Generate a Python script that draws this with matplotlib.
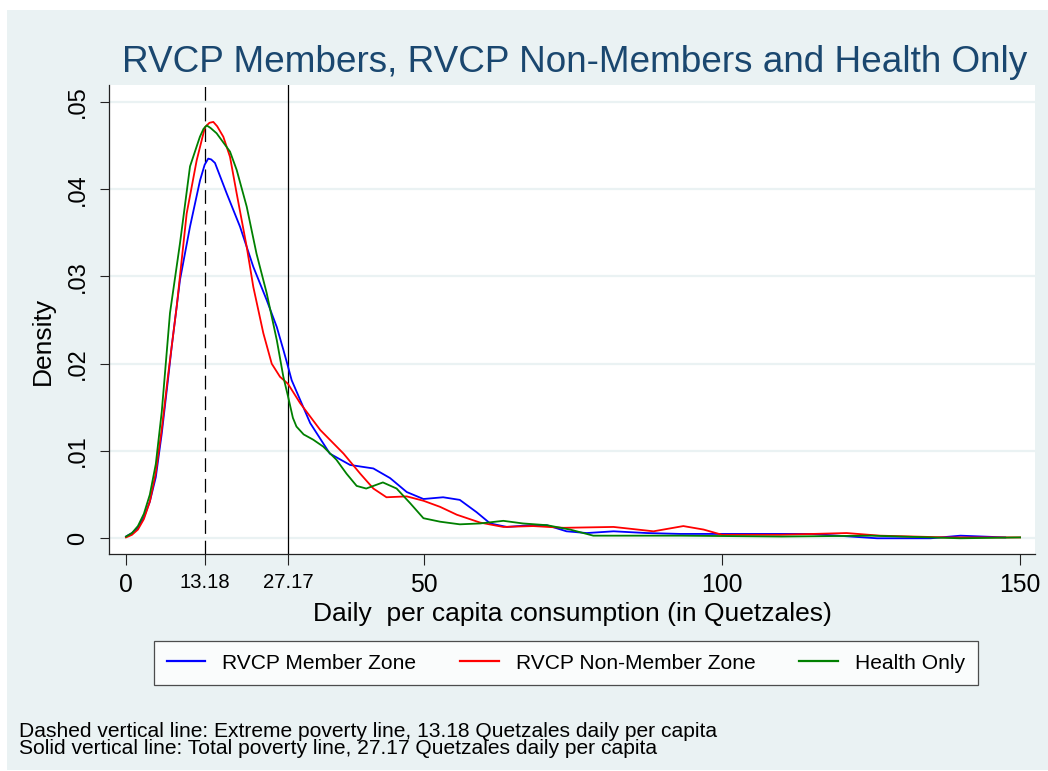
import matplotlib
matplotlib.use("Agg")
import matplotlib.pyplot as plt
from matplotlib.patches import Rectangle

# ---------------- data ----------------
member_x = [0, 1, 2, 3, 4, 5, 6, 7.1, 7.66, 9.06, 10.74, 12.42, 13.2, 13.8, 14.3, 14.93,
            16.9, 19.13, 21.36, 23.6, 25.3, 26.4, 27.17, 27.8, 30.9, 34.2, 37.6, 41.5,
            44.3, 47.1, 49.9, 53.2, 56.0, 58.8, 61.1, 63.9, 67.8, 70.6, 73.9, 77.3,
            81.8, 87.4, 93, 100, 115, 126, 135, 140, 147.5]
member_y = [0.0002, 0.0006, 0.0012, 0.0024, 0.0042, 0.0070, 0.0120, 0.0185, 0.0219,
            0.0296, 0.0357, 0.0410, 0.0428, 0.0435, 0.0434, 0.0430, 0.0395, 0.0357,
            0.0311, 0.0273, 0.0242, 0.0216, 0.0197, 0.0181, 0.0132, 0.0097, 0.0084,
            0.0080, 0.0069, 0.0053, 0.0045, 0.0047, 0.0044, 0.0030, 0.0017, 0.0013,
            0.0015, 0.0015, 0.0008, 0.0006, 0.0008, 0.0006, 0.0005, 0.0005, 0.0005,
            0.0000, 0.0000, 0.0003, 0.0001]

nonmember_x = [0, 1, 2, 3, 4, 5, 6, 7.1, 8.5, 10.18, 11.86, 13.25, 14.0, 14.65, 15.3,
               16.33, 17.45, 18.57, 20.25, 21.36, 23.04, 24.45, 25.84, 27.17, 29.2, 32.6,
               36.5, 39.3, 41.5, 43.7, 47.1, 49.9, 52.7, 55.5, 59.4, 63.3, 68.3, 73.4,
               81.8, 88.5, 93.5, 96.9, 100, 109.7, 120.9, 126.5, 137.7, 150]
nonmember_y = [0.0001, 0.0004, 0.0010, 0.0022, 0.0042, 0.0075, 0.0125, 0.0189, 0.0265,
               0.0372, 0.0433, 0.0471, 0.0476, 0.0477, 0.0472, 0.0460, 0.0437, 0.0395,
               0.0334, 0.0288, 0.0235, 0.0200, 0.0185, 0.0177, 0.0155, 0.0124, 0.0097,
               0.0074, 0.0057, 0.0047, 0.0048, 0.0043, 0.0036, 0.0027, 0.0018, 0.0013,
               0.0014, 0.0012, 0.0013, 0.0008, 0.0014, 0.0010, 0.0004, 0.0004, 0.0006,
               0.0003, 0.0001, 0.0001]

health_x = [0, 1, 2, 3, 4, 5, 6, 6.54, 7.38, 9.06, 10.74, 12.4, 13.0, 13.54, 14.2, 15.2,
            17.45, 18.57, 20.25, 21.9, 23.6, 25.3, 26.4, 27.17, 28.0, 28.6, 29.8, 31.4,
            33.1, 35.3, 37.0, 38.7, 40.3, 43.1, 45.4, 47.7, 49.9, 52.7, 56.0, 59.4,
            63.3, 66.6, 70.6, 74.5, 78.4, 84.6, 93, 110, 125, 140, 150]
health_y = [0.0002, 0.0006, 0.0014, 0.0028, 0.0050, 0.0085, 0.0145, 0.0189, 0.0258,
            0.0338, 0.0426, 0.0460, 0.0469, 0.0473, 0.0470, 0.0464, 0.0443, 0.0422,
            0.0380, 0.0326, 0.0281, 0.0227, 0.0185, 0.0163, 0.0138, 0.0128, 0.0119,
            0.0113, 0.0105, 0.0090, 0.0074, 0.0060, 0.0057, 0.0064, 0.0057, 0.0040,
            0.0023, 0.0019, 0.0016, 0.0017, 0.0020, 0.0017, 0.0015, 0.0010, 0.0003,
            0.0003, 0.0003, 0.0002, 0.0003, 0.0000, 0.0001]

series_labels = ["RVCP Member Zone", "RVCP Non-Member Zone", "Health Only"]
series_colors = ["#0000FF", "#FF0000", "#008000"]

extreme_line = 13.18
total_line = 27.17

x_major_ticks = [0, 50, 100, 150]
x_minor_ticks = [13.18, 27.17]
x_minor_labels = ["13.18", "27.17"]
y_ticks = [0, 0.01, 0.02, 0.03, 0.04, 0.05]
y_tick_labels = ["0", ".01", ".02", ".03", ".04", ".05"]

title = "RVCP Members, RVCP Non-Members and Health Only"
xlabel = "Daily  per capita consumption (in Quetzales)"
ylabel = "Density"
note1 = "Dashed vertical line: Extreme poverty line, 13.18 Quetzales daily per capita"
note2 = "Solid vertical line: Total poverty line, 27.17 Quetzales daily per capita"

# ---------------- figure ----------------
W, H = 1048, 771
plt.rcParams["font.family"] = ["Liberation Sans", "DejaVu Sans"]
fig = plt.figure(figsize=(W / 100, H / 100), dpi=100)
fig.patch.set_facecolor("white")
BG = "#EAF2F3"
fig.add_artist(Rectangle((7 / W, 1 - 770 / H), (W - 7) / W, (770 - 10) / H,
                         transform=fig.transFigure, facecolor=BG, edgecolor="none", zorder=0))

def fx(px):
    return px / W

def fy(py):
    return 1 - py / H

ax = fig.add_axes([fx(109), fy(554), fx(1035) - fx(109), fy(85) - fy(554)])
ax.set_facecolor("white")
ax.set_xlim(-2.85, 152.5)
ax.set_ylim(-0.0018, 0.05193)

for yt in y_ticks:
    ax.axhline(yt, color=BG, lw=1.6, zorder=1)

lines = []
for xs, ys, lab, col in [(member_x, member_y, series_labels[0], series_colors[0]),
                         (nonmember_x, nonmember_y, series_labels[1], series_colors[1]),
                         (health_x, health_y, series_labels[2], series_colors[2])]:
    ln, = ax.plot(xs, ys, color=col, lw=1.3, label=lab, zorder=3,
                  solid_joinstyle="round")
    lines.append(ln)

ax.axvline(extreme_line, color="black", lw=0.9, dashes=(11, 5.5), zorder=2)
ax.axvline(total_line, color="black", lw=0.9, zorder=2)

for s in ["top", "right"]:
    ax.spines[s].set_visible(False)
for s in ["left", "bottom"]:
    ax.spines[s].set_color("#222222")
    ax.spines[s].set_linewidth(0.9)

ax.set_xticks(x_major_ticks + x_minor_ticks)
ax.set_xticklabels([str(t) for t in x_major_ticks] + x_minor_labels)
for lbl in ax.get_xticklabels():
    if lbl.get_text() in x_minor_labels:
        lbl.set_fontsize(14.6)
    else:
        lbl.set_fontsize(17.8)
ax.tick_params(axis="x", direction="out", length=8, width=0.8, color="#222222", pad=6)

ax.set_yticks(y_ticks)
ax.set_yticklabels(y_tick_labels, rotation=90, va="center", fontsize=17)
ax.tick_params(axis="y", direction="out", length=6.5, width=0.8, color="#222222", pad=8)

fig.text(fx(575), fy(72), title, ha="center", va="baseline", fontsize=26.6,
         color="#1A476F")
fig.text(fx(572.5), fy(621), xlabel, ha="center", va="baseline", fontsize=19)
fig.text(fx(43), fy(341), ylabel, ha="center", va="center", rotation=90, fontsize=19)

leg = fig.legend(handles=lines, labels=series_labels, loc="upper left",
                 bbox_to_anchor=(fx(154), fy(641)), ncol=3, fontsize=15.1,
                 frameon=True, fancybox=False, shadow=False, handlelength=1.83,
                 handletextpad=0.82, columnspacing=2.1, borderpad=0.6,
                 borderaxespad=0.0)
leg.get_frame().set_edgecolor("#222222")
leg.get_frame().set_linewidth(0.9)
leg.get_frame().set_facecolor("white")
for h in leg.get_lines():
    h.set_linewidth(1.6)

fig.text(fx(19), fy(737), note1, ha="left", va="baseline", fontsize=15.1)
fig.text(fx(19), fy(754), note2, ha="left", va="baseline", fontsize=15.1)

fig.savefig("out.png", dpi=100, facecolor=fig.get_facecolor())
